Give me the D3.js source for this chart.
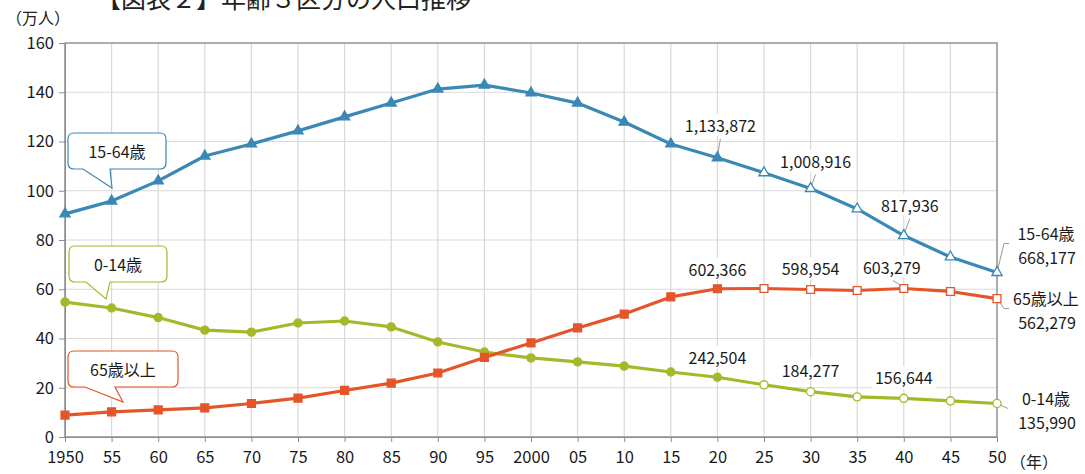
<!DOCTYPE html>
<html><head><meta charset="utf-8">
<script src="https://cdn.jsdelivr.net/npm/d3@7/dist/d3.min.js"></script>
<style>
html,body{margin:0;padding:0;background:#fff;}
svg{display:block;font-family:"Noto Sans CJK JP","Noto Sans",sans-serif;}
</style></head>
<body>
<svg id="c" width="1085" height="474"></svg>
<script>
// ---- data ----
const years = [1950,1955,1960,1965,1970,1975,1980,1985,1990,1995,2000,2005,2010,2015,2020,2025,2030,2035,2040,2045,2050];
const yearLabels = ["1950","55","60","65","70","75","80","85","90","95","2000","05","10","15","20","25","30","35","40","45","50"];
const yTicks = [0,20,40,60,80,100,120,140,160];
const working = [90.6,95.8,104.0,114.1,119.0,124.3,130.0,135.6,141.3,142.9,139.7,135.6,127.9,119.0,113.4,107.3,100.9,92.6,81.8,73.1,66.8];
const children = [54.8,52.4,48.5,43.4,42.6,46.3,47.1,44.7,38.6,34.5,32.1,30.5,28.8,26.4,24.25,21.2,18.4,16.3,15.7,14.7,13.6];
const elderly = [8.9,10.2,11.0,11.8,13.6,15.8,18.9,21.9,26.0,32.3,38.2,44.3,49.9,56.9,60.2,60.3,59.9,59.5,60.3,59.1,56.2];
const seriesNames = ["15-64歳","0-14歳","65歳以上"];
const projectionStart = 2025;
const titleText = "【図表２】年齢３区分の人口推移";
const yUnit = "（万人）";
const xUnit = "（年）";
// value labels: [series index, year, text]
const valueLabels = [
  [0,2020,"1,133,872"],[0,2030,"1,008,916"],[0,2040,"817,936"],
  [2,2020,"602,366"],[2,2030,"598,954"],[2,2040,"603,279"],
  [1,2020,"242,504"],[1,2030,"184,277"],[1,2040,"156,644"]
];
const endLabels = [[0,"668,177"],[2,"562,279"],[1,"135,990"]];

// ---- layout / style ----
const colors = ["#3a88b6","#a6b82a","#e4552a"];
const svg = d3.select("#c");
const x = d3.scaleLinear().domain([1950,2050]).range([65,997]);
const y = d3.scaleLinear().domain([0,160]).range([437,43]);
const seriesData = [working, children, elderly];
const fs = 16;

// title
svg.append("text").attr("x",96).attr("y",8).attr("font-size",25).attr("fill","#222").text(titleText);
svg.append("text").attr("x",6).attr("y",24).attr("font-size",16).attr("fill","#222").text(yUnit);
svg.append("text").attr("x",1010).attr("y",468).attr("font-size",16).attr("fill","#222").text(xUnit);

// grid
const g = svg.append("g");
g.selectAll("line.v").data(years).join("line")
  .attr("x1",d=>x(d)).attr("x2",d=>x(d)).attr("y1",y(160)).attr("y2",y(0))
  .attr("stroke","#d9d9d9").attr("stroke-width",1.2);
g.selectAll("line.h").data(yTicks).join("line")
  .attr("x1",x(1950)).attr("x2",x(2050)).attr("y1",d=>y(d)).attr("y2",d=>y(d))
  .attr("stroke","#d9d9d9").attr("stroke-width",1.2);
// frame
svg.append("rect").attr("x",x(1950)).attr("y",y(160)).attr("width",x(2050)-x(1950)).attr("height",y(0)-y(160))
  .attr("fill","none").attr("stroke","#8c8c8c").attr("stroke-width",1.3);

// axes
const xAxis = d3.axisBottom(x).tickValues(years).tickFormat((d,i)=>yearLabels[i]).tickSize(5).tickPadding(9);
const ax = svg.append("g").attr("transform",`translate(0,${y(0)})`).call(xAxis);
ax.select(".domain").attr("stroke","#8c8c8c");
ax.selectAll(".tick line").attr("stroke","#8c8c8c");
ax.selectAll("text").attr("font-size",16.5).attr("fill","#1a1a1a").attr("font-family","'Noto Sans CJK JP',sans-serif");
const yAxis = d3.axisLeft(y).tickValues(yTicks).tickSize(6).tickPadding(5);
const ay = svg.append("g").attr("transform",`translate(${x(1950)},0)`).call(yAxis);
ay.select(".domain").attr("stroke","#8c8c8c");
ay.selectAll(".tick line").attr("stroke","#8c8c8c");
ay.selectAll("text").attr("font-size",16.5).attr("fill","#1a1a1a").attr("font-family","'Noto Sans CJK JP',sans-serif");

// leader lines (drawn under labels)
const leaders = svg.append("g").attr("stroke","#999").attr("stroke-width",1).attr("fill","none");

// lines
const line = d3.line().x((d,i)=>x(years[i])).y(d=>y(d));
seriesData.forEach((s,k)=>{
  svg.append("path").datum(s).attr("d",line).attr("fill","none")
    .attr("stroke",colors[k]).attr("stroke-width",3.2).attr("stroke-linejoin","round");
});
// markers
const tri = d3.symbol().type(d3.symbolTriangle).size(46);
const sq = d3.symbol().type(d3.symbolSquare).size(62);
const circ = d3.symbol().type(d3.symbolCircle).size(52);
const syms = [tri, circ, sq];
seriesData.forEach((s,k)=>{
  svg.append("g").selectAll("path").data(s).join("path")
    .attr("d",syms[k]())
    .attr("transform",(d,i)=>`translate(${x(years[i])},${y(d)})`)
    .attr("fill",(d,i)=>years[i]>=projectionStart?"#fff":colors[k])
    .attr("stroke",colors[k]).attr("stroke-width",1.3);
});

// value labels
const labelOffsets = {"0_2020":[3,-33],"0_2030":[5,-28],"0_2040":[6,-31],
  "2_2020":[0,-20],"2_2030":[0,-21],"2_2040":[-12,-22],
  "1_2020":[0,-20],"1_2030":[0,-22],"1_2040":[0,-21]};
const withLeader = {"0_2020":1,"0_2030":1,"0_2040":1,"2_2040":1};
const lblG = svg.append("g");
valueLabels.forEach(([k,yr,t])=>{
  const i = years.indexOf(yr);
  const px = x(yr), py = y(seriesData[k][i]);
  const key = k+"_"+yr, off = labelOffsets[key];
  const cx = px+off[0], cy = py+off[1];
  if(withLeader[key]){
    if(k===0) leaders.append("line").attr("x1",cx).attr("y1",cy+14).attr("x2",px).attr("y2",py-1);
    else leaders.append("line").attr("x1",cx+1).attr("y1",cy+14).attr("x2",px-1).attr("y2",py-2);
  }
  const tx = lblG.append("text").attr("x",cx).attr("y",cy).attr("text-anchor","middle")
    .attr("dominant-baseline","central").attr("font-size",fs).attr("fill","#1a1a1a").text(t);
  const bb = tx.node().getBBox();
  lblG.insert("rect","text").attr("x",bb.x-3).attr("y",bb.y+1).attr("width",bb.width+6).attr("height",bb.height-2).attr("fill","#fff");
});

// end labels
const endLines = [[[0,0],[7,-29],[12,-29]],[[0,0],[7,10],[12,10]],[[0,0],[11,5]]];
endLabels.forEach(([k,t],j)=>{
  const px = x(2050), py = y(seriesData[k][seriesData[k].length-1]);
  const pts = endLines[j].map(p=>[px+p[0],py+p[1]]);
  leaders.append("path").attr("d",d3.line()(pts));
  const ty = [233,298,398][j];
  const te = svg.append("text").attr("x",1046).attr("text-anchor","middle").attr("font-size",fs).attr("fill","#1a1a1a");
  te.append("tspan").attr("x",1046).attr("y",ty).attr("dominant-baseline","central").text(seriesNames[k]);
  te.append("tspan").attr("x",1047).attr("y",ty+24).attr("dominant-baseline","central").text(t);
});

// callouts
const callouts = [
  {k:0, box:[68,133,166,169], b1:83, b2:110, tip:[112,188]},
  {k:1, box:[69,246,167,282], b1:86, b2:110, tip:[106,299]},
  {k:2, box:[68,351,178,387], b1:85, b2:115, tip:[123,402]}
];
callouts.forEach(c=>{
  const [x0,y0,x1,y1]=c.box, r=6;
  const p = `M${x0+r},${y0}H${x1-r}Q${x1},${y0} ${x1},${y0+r}V${y1-r}Q${x1},${y1} ${x1-r},${y1}H${c.b2}L${c.tip[0]},${c.tip[1]}L${c.b1},${y1}H${x0+r}Q${x0},${y1} ${x0},${y1-r}V${y0+r}Q${x0},${y0} ${x0+r},${y0}Z`;
  svg.append("path").attr("d",p).attr("fill","#fff").attr("stroke",colors[c.k]).attr("stroke-width",1.2);
  svg.append("text").attr("x",(x0+x1)/2).attr("y",(y0+y1)/2).attr("text-anchor","middle")
    .attr("dominant-baseline","central").attr("font-size",fs).attr("fill","#1a1a1a").text(seriesNames[c.k]);
});
</script>
</body></html>
